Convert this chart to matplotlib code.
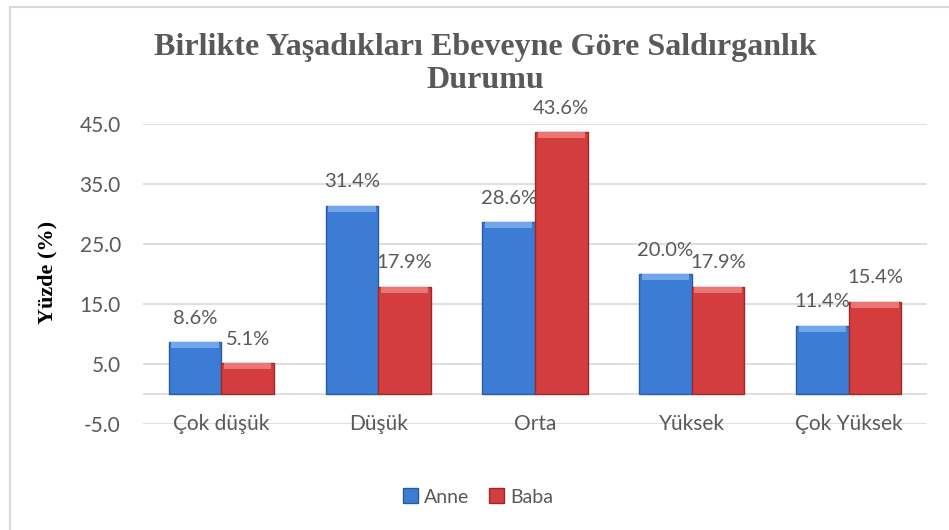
import numpy as np
import matplotlib
matplotlib.use("Agg")
import matplotlib.pyplot as plt
from matplotlib.patches import Rectangle, Patch

# data
categories = ["Çok düşük", "Düşük", "Orta", "Yüksek", "Çok Yüksek"]
anne = [8.6, 31.4, 28.6, 20.0, 11.4]
baba = [5.1, 17.9, 43.6, 17.9, 15.4]
series_names = ["Anne", "Baba"]
yticks = [-5.0, 5.0, 15.0, 25.0, 35.0, 45.0]

TITLE = "Birlikte Yaşadıkları Ebeveyne Göre Saldırganlık\nDurumu"
YLABEL = "Yüzde (%)"

BLUE = "#3c7cd4"
BLUE_EDGE = "#2b5c9f"
BLUE_TOP = "#72a6ea"
RED = "#d33d3d"
RED_EDGE = "#992a2a"
RED_TOP = "#e97575"
TEXT_GRAY = "#595959"
GRID = "#d9d9d9"

plt.rcParams["font.family"] = ["Lato", "DejaVu Sans"]

fig = plt.figure(figsize=(9.49, 5.30), dpi=100)
ax = fig.add_axes([143/949, 1 - 424/530, (927-143)/949, (424-124)/530])

x = np.arange(len(categories))
w = 0.335

def draw_series(xpos, vals, face, edge, top):
    ax.bar(xpos, vals, w, color=face, edgecolor=edge, linewidth=1.0, zorder=3)
    # lighter bevel strip on top of every bar
    bev = [min(1.0, v) for v in vals]
    ax.bar(xpos, bev, w * 0.9, bottom=[v - b for v, b in zip(vals, bev)],
           color=top, linewidth=0, zorder=4)
    for xp, v in zip(xpos, vals):
        ax.annotate(f"{v:.1f}%", (xp, v), xytext=(0, 17), textcoords="offset points",
                    ha="center", va="center", fontsize=14.5, color=TEXT_GRAY)

draw_series(x - w/2, anne, BLUE, BLUE_EDGE, BLUE_TOP)
draw_series(x + w/2, baba, RED, RED_EDGE, RED_TOP)

ax.set_xlim(-0.5, len(categories) - 0.5)
ax.set_ylim(-5, 45)
ax.set_yticks(yticks)
ax.set_yticklabels([f"{t:.1f}" for t in yticks], fontsize=15, color=TEXT_GRAY)
ax.tick_params(axis="y", length=0, pad=16)
ax.set_xticks([])
for s in ax.spines.values():
    s.set_visible(False)
ax.grid(axis="y", color=GRID, linewidth=1.2, zorder=0)
ax.axhline(0, color=GRID, linewidth=1.2, zorder=1)

for xi, c in zip(x, categories):
    ax.text(xi, -5, c, ha="center", va="center", fontsize=15, color=TEXT_GRAY, zorder=5)

fig.text(47/949, 1 - 272/530, YLABEL, rotation=90, ha="center", va="center",
         fontsize=16, fontweight="bold", family="Liberation Serif", color="black")

fig.text(485/949, 1 - 64/530, TITLE, ha="center", va="center", fontsize=23,
         fontweight="bold", family="Liberation Serif", color=TEXT_GRAY, linespacing=1.15)

handles = [Patch(facecolor=BLUE, edgecolor=BLUE_EDGE), Patch(facecolor=RED, edgecolor=RED_EDGE)]
fig.legend(handles, series_names, loc="center", bbox_to_anchor=(478/949, 1 - 497/530),
           ncol=2, frameon=False, fontsize=14, handlelength=0.8, handleheight=0.8,
           handletextpad=0.3, columnspacing=1.0, labelcolor=TEXT_GRAY)

# chart frame (only top and left edges fall inside the picture)
fig.patches.append(Rectangle((10/949, -0.05), 1.0, 1 - 7/530 + 0.05, transform=fig.transFigure,
                             fill=False, edgecolor=GRID, linewidth=1.5, zorder=0))

fig.savefig("out.png", dpi=100)
